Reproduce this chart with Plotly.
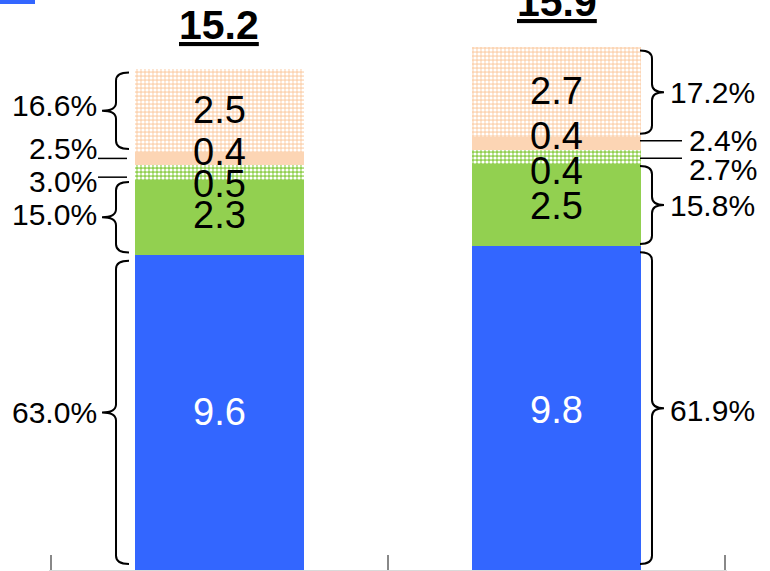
import plotly.graph_objects as go

# two bars, five stacked parts each (bottom -> top)
cats = [0, 1]
totals = [15.2, 15.9]
blue = [9.58, 9.84]
green = [2.28, 2.51]
green_pat = [0.46, 0.43]
peach = [0.38, 0.38]
peach_pat = [2.52, 2.73]

blue_lbl = ["9.6", "9.8"]
green_lbl = ["2.3", "2.5"]
green_pat_lbl = ["0.5", "0.4"]
peach_lbl = ["0.4", "0.4"]
peach_pat_lbl = ["2.5", "2.7"]

pct_left = ["63.0%", "15.0%", "3.0%", "2.5%", "16.6%"]
pct_right = ["61.9%", "15.8%", "2.7%", "2.4%", "17.2%"]

C_BLUE = "#3366FF"
C_GREEN = "#92D050"
C_PEACH = "#FCD5B4"
FONT = "Arial, Liberation Sans, sans-serif"

series = [
    (blue, C_BLUE, None),
    (green, C_GREEN, None),
    (green_pat, C_GREEN, "."),
    (peach, C_PEACH, None),
    (peach_pat, C_PEACH, "."),
]
labels = [blue_lbl, green_lbl, green_pat_lbl, peach_lbl, peach_pat_lbl]

fig = go.Figure()
for vals, col, pat in series:
    marker = dict(color=col, line=dict(width=0))
    if pat:
        marker["pattern"] = dict(shape=pat, fgcolor="white", bgcolor=col,
                                 size=4, solidity=0.5, fillmode="replace")
    fig.add_trace(go.Bar(x=cats, y=vals, width=0.5, marker=marker,
                         showlegend=False, hoverinfo="skip"))

# segment bounds per bar
parts = [blue, green, green_pat, peach, peach_pat]
bounds = []
for b in range(2):
    acc = 0
    row = []
    for p in parts:
        row.append((acc, acc + p[b]))
        acc += p[b]
    bounds.append(row)

# value labels inside bars (small segments nudged apart)
val_shift = [[0, 2, -12, 6, 1], [-2, -1, -14, 7, 1]]
for b in range(2):
    for k in range(5):
        y0, y1 = bounds[b][k]
        fig.add_annotation(x=cats[b], y=(y0 + y1) / 2, text=labels[k][b],
                           showarrow=False, yshift=val_shift[b][k],
                           font=dict(family=FONT, size=38,
                                     color="white" if k == 0 else "black"))

# totals
for b in range(2):
    fig.add_annotation(x=cats[b], y=totals[b], text="<b><u>%s</u></b>" % totals[b],
                       showarrow=False, yshift=45, yanchor="middle",
                       font=dict(family=FONT, size=41, color="black"))


def brace(y0, y1, e, m, t, r=0.25):
    ym = (y0 + y1) / 2
    return ("M %s,%s Q %s,%s %s,%s L %s,%s Q %s,%s %s,%s Q %s,%s %s,%s L %s,%s Q %s,%s %s,%s"
            % (e, y1, m, y1, m, y1 - r, m, ym + r, m, ym, t, ym,
               m, ym, m, ym - r, m, y0 + r, m, y0, e, y0))


edge = [-0.25, 1.25]
bx = [(-6, -19, -33), (-1, 11, 23)]
inset = [[0.18, 0.07, 0, 0, 0.1], [0.18, 0.07, 0, 0, 0.1]]
for b in range(2):
    e, m, t = bx[b]
    for k in (0, 1, 4):
        y0, y1 = bounds[b][k]
        fig.add_shape(type="path", xref="x", yref="y", xsizemode="pixel",
                      xanchor=edge[b],
                      path=brace(y0 + inset[b][k], y1 - inset[b][k], e, m, t),
                      line=dict(color="black", width=2))

# leader lines for thin segments
line_px = [(-37, -8), (-1, 41)]
line_shift = [[0, 0, -0.15, 0, 0], [0, 0, -0.05, 0.08, 0]]
for b in range(2):
    for k in (2, 3):
        y0, y1 = bounds[b][k]
        yy = (y0 + y1) / 2 + line_shift[b][k]
        fig.add_shape(type="line", xref="x", yref="y", xsizemode="pixel",
                      xanchor=edge[b], x0=line_px[b][0], x1=line_px[b][1],
                      y0=yy, y1=yy, line=dict(color="black", width=1.5))

# percentage labels
pct_shift = [[0, 3, -9, 10, 5], [-2, -1, -13, 3, 0]]
for b, pcts in enumerate([pct_left, pct_right]):
    for k in range(5):
        y0, y1 = bounds[b][k]
        fig.add_annotation(x=edge[b], y=(y0 + y1) / 2, text=pcts[k], showarrow=False,
                           xanchor="right" if b == 0 else "left",
                           xshift=-36 if b == 0 else (27 if k in (0, 1, 4) else 46),
                           yshift=pct_shift[b][k],
                           font=dict(family=FONT, size=30, color="black"))

# bit of legend swatch peeking in at top-left
fig.add_shape(type="rect", xref="paper", yref="paper", xsizemode="pixel", ysizemode="pixel",
              xanchor=0, yanchor=1, x0=-49, x1=-14, y0=-4, y1=6,
              fillcolor=C_BLUE, line=dict(width=0))

fig.update_layout(
    width=770, height=571,
    margin=dict(l=49, r=43, t=0, b=1),
    barmode="stack",
    plot_bgcolor="white", paper_bgcolor="white",
    showlegend=False,
    xaxis=dict(range=[-0.505, 1.505], tickmode="array", tickvals=[-0.5, 0.5, 1.5],
               ticktext=["", "", ""], ticks="inside", ticklen=15, tickwidth=1.5,
               tickcolor="#888888", showline=True, linecolor="#d9d9d9", linewidth=1,
               showgrid=False, zeroline=False, fixedrange=True),
    yaxis=dict(range=[0, 570 / 32.9], visible=False, showgrid=False, fixedrange=True),
)

fig.write_html("out.html", post_script="document.body.style.margin='0';",
               config={"displayModeBar": False})
